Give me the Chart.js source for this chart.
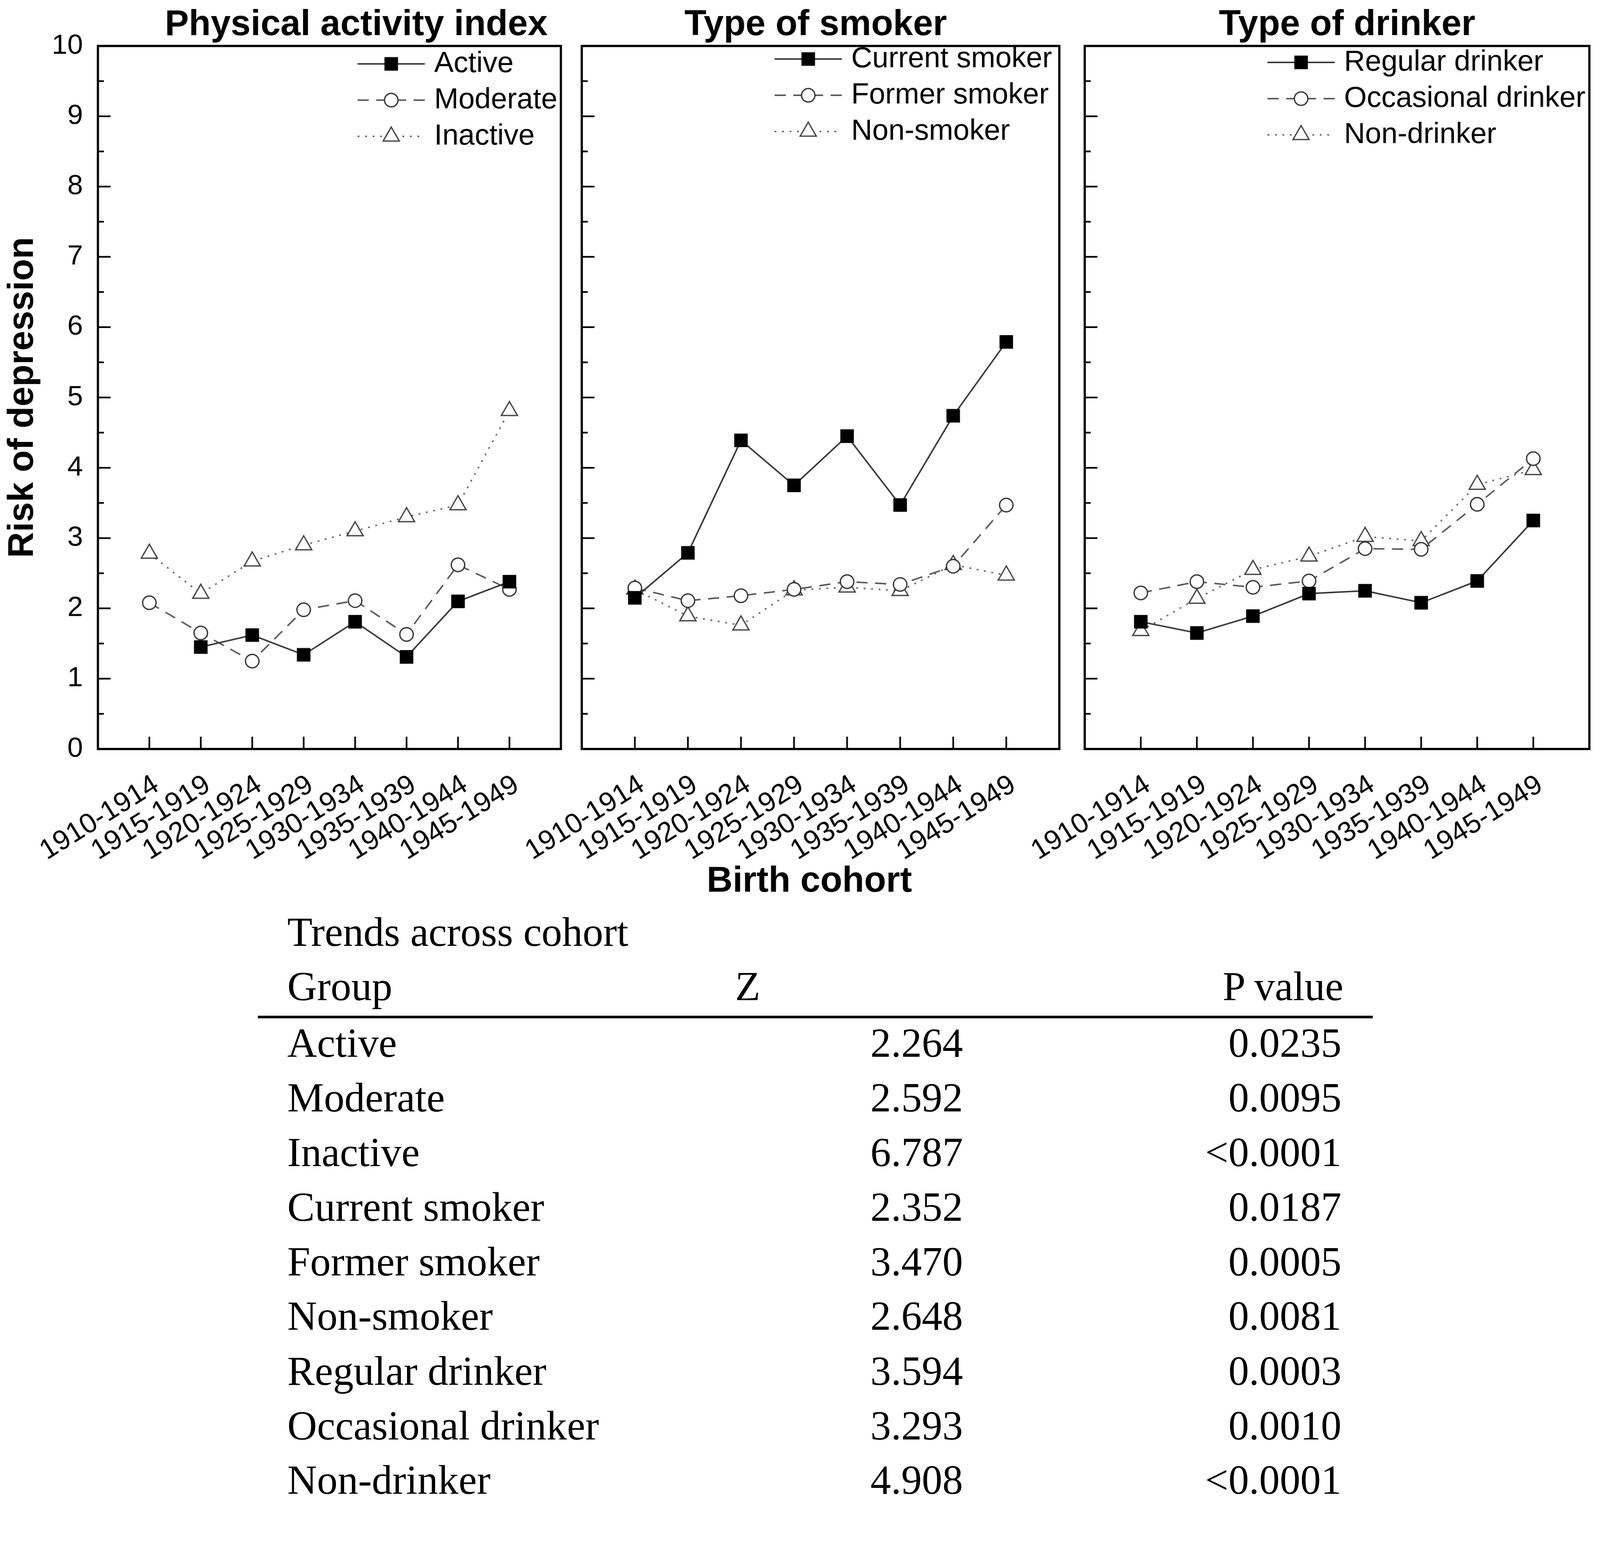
<!DOCTYPE html>
<html>
<head>
<meta charset="utf-8">
<script src="https://cdn.jsdelivr.net/npm/chart.js@4.4.1/dist/chart.umd.min.js"></script>
<style>
html,body{margin:0;padding:0;background:#fff;overflow:hidden;}
#page{position:absolute;left:0;top:0;width:4282px;height:4010px;transform-origin:0 0;background:#fff;}
canvas.panel{position:absolute;left:0;top:0;}
.t{position:absolute;font-family:'Liberation Serif','Times New Roman',serif;font-size:110px;line-height:110px;white-space:nowrap;color:#000;}
.rule{position:absolute;background:#000;}
</style>
</head>
<body>
<div id="page">
<canvas id="c1" class="panel" width="4282" height="2450"></canvas>
<canvas id="c2" class="panel" width="4282" height="2450"></canvas>
<canvas id="c3" class="panel" width="4282" height="2450"></canvas>
<div id="table"></div>
</div>
<script>
// data
const cohorts = ['1910-1914','1915-1919','1920-1924','1925-1929','1930-1934','1935-1939','1940-1944','1945-1949'];

const active     = [null, 1.45, 1.62, 1.34, 1.81, 1.31, 2.10, 2.38];
const moderate   = [2.08, 1.65, 1.25, 1.98, 2.11, 1.63, 2.62, 2.27];
const inactive   = [2.78, 2.21, 2.67, 2.90, 3.10, 3.30, 3.47, 4.81];

const current    = [2.15, 2.79, 4.39, 3.75, 4.45, 3.47, 4.74, 5.79];
const former     = [2.29, 2.11, 2.18, 2.27, 2.38, 2.34, 2.60, 3.47];
const nonSmoker  = [2.27, 1.89, 1.76, 2.26, 2.30, 2.25, 2.62, 2.47];

const regular    = [1.81, 1.65, 1.89, 2.21, 2.25, 2.08, 2.39, 3.25];
const occasional = [2.22, 2.38, 2.30, 2.39, 2.85, 2.84, 3.48, 4.13];
const nonDrinker = [1.68, 2.14, 2.55, 2.74, 3.02, 2.96, 3.76, 3.97];

const tableGroups = ['Active','Moderate','Inactive','Current smoker','Former smoker','Non-smoker','Regular drinker','Occasional drinker','Non-drinker'];
const tableZ      = ['2.264','2.592','6.787','2.352','3.470','2.648','3.594','3.293','4.908'];
const tableP      = ['0.0235','0.0095','<0.0001','0.0187','0.0005','0.0081','0.0003','0.0010','<0.0001'];

// fit the 4282x4010 layout into whatever the viewport really is
const page = document.getElementById('page');
const fit = Math.min(window.innerWidth/4282, window.innerHeight/4010);
page.style.transform = 'scale(' + fit + ')';

const SANS = "'Liberation Sans', Arial, sans-serif";
Chart.defaults.font.family = SANS;
Chart.defaults.color = '#000';

const styles = {
  solid: {borderColor:'#333', borderWidth:4, borderDash:[], pointStyle:'rect', pointRadius:25,
          pointBackgroundColor:'#000', pointBorderColor:'#000', pointBorderWidth:1},
  dash:  {borderColor:'#555', borderWidth:4, borderDash:[30,20], pointStyle:'circle', pointRadius:18,
          pointBackgroundColor:'#fff', pointBorderColor:'#333', pointBorderWidth:3.5},
  dot:   {borderColor:'#666', borderWidth:4, borderDash:[5,15], pointStyle:'triangle', pointRadius:25,
          pointBackgroundColor:'#fff', pointBorderColor:'#444', pointBorderWidth:3.5}
};

function series(label, vals, kind){
  return Object.assign({
    label,
    data: cohorts.map((c,i)=>({x:i, y:vals[i]})),
    tension:0,
    spanGaps:false
  }, styles[kind]);
}

// marker drawing for the legend rows
function marker(ctx, d, x, y){
  const r = d.pointRadius;
  ctx.fillStyle = d.pointBackgroundColor;
  ctx.strokeStyle = d.pointBorderColor;
  ctx.lineWidth = d.pointBorderWidth;
  ctx.setLineDash([]);
  ctx.beginPath();
  if(d.pointStyle==='rect'){
    const s = r*Math.SQRT1_2;
    ctx.rect(x-s, y-s, 2*s, 2*s);
  }else if(d.pointStyle==='circle'){
    ctx.arc(x, y, r, 0, Math.PI*2);
  }else{
    ctx.moveTo(x, y-r);
    ctx.lineTo(x+r*Math.sin(Math.PI*2/3), y-r*Math.cos(Math.PI*2/3));
    ctx.lineTo(x+r*Math.sin(Math.PI*4/3), y-r*Math.cos(Math.PI*4/3));
    ctx.closePath();
  }
  ctx.fill();
  ctx.stroke();
}

const insideLegend = {
  id:'insideLegend',
  afterDraw(chart, args, opts){
    const {ctx, chartArea:a} = chart;
    ctx.save();
    ctx.font = opts.font;
    const tx = a.left + opts.textX;
    chart.data.datasets.forEach((d,i)=>{
      const y = a.top + opts.top + i*opts.rowH;
      const x2 = tx - opts.gap, x1 = x2 - opts.lineLen;
      ctx.strokeStyle = d.borderColor;
      ctx.lineWidth = d.borderWidth;
      ctx.setLineDash(d.borderDash);
      ctx.beginPath(); ctx.moveTo(x1,y); ctx.lineTo(x2,y); ctx.stroke();
      marker(ctx, d, (x1+x2)/2, y);
      ctx.fillStyle = '#000';
      ctx.textAlign = 'left';
      ctx.textBaseline = 'middle';
      ctx.fillText(d.label, tx, y);
    });
    ctx.restore();
  }
};

// panel heading (and the shared x title), slightly off-centre as in the figure
const panelTitle = {
  id:'panelTitle',
  afterDraw(chart, args, opts){
    const {ctx, chartArea:a} = chart;
    const mid = (a.left+a.right)/2;
    ctx.save();
    ctx.font = 'bold 96px ' + SANS;
    ctx.fillStyle = '#000';
    ctx.textAlign = 'center';
    ctx.textBaseline = 'alphabetic';
    ctx.fillText(opts.text, mid + opts.dx, opts.baseline);
    if(opts.below){
      ctx.textBaseline = 'middle';
      ctx.fillText(opts.below, mid + opts.belowDx, opts.belowY);
    }
    ctx.restore();
  }
};

// box plus inward tick marks
const frame = {
  id:'frame',
  afterDraw(chart){
    const {ctx, chartArea:a, scales:{x,y}} = chart;
    ctx.save();
    ctx.strokeStyle = '#000';
    ctx.setLineDash([]);
    ctx.lineWidth = 4.5;
    const seg = (x1,y1,x2,y2)=>{ctx.beginPath();ctx.moveTo(x1,y1);ctx.lineTo(x2,y2);ctx.stroke();};
    y.ticks.forEach((t,i)=>{
      const py = y.getPixelForValue(t.value);
      seg(a.left, py, a.left+34, py);
      if(i < y.ticks.length-1){
        const pm = y.getPixelForValue((t.value + y.ticks[i+1].value)/2);
        seg(a.left, pm, a.left+16, pm);
      }
    });
    x.ticks.forEach(t=>{
      const px = x.getPixelForValue(t.value);
      seg(px, a.bottom, px, a.bottom-33);
    });
    ctx.lineWidth = 6;
    ctx.strokeRect(a.left, a.top, a.right-a.left, a.bottom-a.top);
    ctx.restore();
  }
};

function makePanel(id, cfg){
  const yW = cfg.yLabels ? 262 : 0;
  new Chart(document.getElementById(id), {
    type:'line',
    data:{datasets:cfg.datasets},
    options:{
      responsive:false,
      animation:false,
      devicePixelRatio:1,
      events:[],
      layout:{padding:{left:cfg.left - yW, right:4282 - cfg.right, top:123, bottom:25}},
      plugins:{
        legend:{display:false},
        tooltip:{enabled:false},
        title:{display:false},
        panelTitle:{text:cfg.title, dx:cfg.titleDx, baseline:94, below:cfg.xTitle, belowDx:-30, belowY:2361},
        insideLegend:{font:'78px ' + SANS, textX:cfg.legX, top:cfg.legTop, rowH:97, lineLen:180, gap:25}
      },
      scales:{
        x:{
          type:'linear', min:-1, max:8,
          afterBuildTicks:s=>{ s.ticks = s.ticks.filter(t=>t.value>=0 && t.value<=7); },
          afterFit:s=>{ s.height = 420; },
          grid:{display:false, drawTicks:false},
          border:{display:false},
          ticks:{stepSize:1, autoSkip:false, minRotation:32, maxRotation:32, padding:52, labelOffset:19,
                 font:{size:75}, color:'#000', callback:v=>cohorts[v] ?? ''}
        },
        y:{
          min:0, max:10,
          afterFit:s=>{ s.width = yW; },
          grid:{display:false, drawTicks:false},
          border:{display:false},
          ticks:{display:cfg.yLabels, stepSize:1, padding:40, font:{size:75}, color:'#000'},
          title:{display:cfg.yLabels, text:'Risk of depression', color:'#000',
                 font:{size:96, weight:'bold'}, padding:{top:4, bottom:0}}
        }
      }
    },
    plugins:[frame, insideLegend, panelTitle]
  });
}

makePanel('c1', {
  left:262, right:1501, yLabels:true, title:'Physical activity index', titleDx:72, legX:900, legTop:48,
  datasets:[series('Active', active, 'solid'), series('Moderate', moderate, 'dash'), series('Inactive', inactive, 'dot')]
});
makePanel('c2', {
  left:1557, right:2835, yLabels:false, title:'Type of smoker', titleDx:-13, legX:721, legTop:35, xTitle:'Birth cohort',
  datasets:[series('Current smoker', current, 'solid'), series('Former smoker', former, 'dash'), series('Non-smoker', nonSmoker, 'dot')]
});
makePanel('c3', {
  left:2903, right:4257, yLabels:false, title:'Type of drinker', titleDx:27, legX:694, legTop:44,
  datasets:[series('Regular drinker', regular, 'solid'), series('Occasional drinker', occasional, 'dash'), series('Non-drinker', nonDrinker, 'dot')]
});

// trend table below the charts
const table = document.getElementById('table');
function cell(text, baseline, x, align){
  const d = document.createElement('div');
  d.className = 't';
  d.textContent = text;
  d.style.top = (baseline - 92) + 'px';
  if(align==='right') d.style.right = (4282 - x) + 'px';
  else if(align==='center'){ d.style.left = x + 'px'; d.style.transform = 'translateX(-50%)'; }
  else d.style.left = x + 'px';
  table.appendChild(d);
}
cell('Trends across cohort', 2532, 769);
cell('Group', 2677, 769);
cell('Z', 2677, 2001, 'center');
cell('P value', 2677, 3595, 'right');
const rule = document.createElement('div');
rule.className = 'rule';
Object.assign(rule.style, {left:'690px', top:'2719px', width:'2984px', height:'7px'});
table.appendChild(rule);
tableGroups.forEach((g,i)=>{
  const b = 2829 + i*146.25;
  cell(g, b, 769);
  cell(tableZ[i], b, 2577, 'right');
  cell(tableP[i], b, 3590, 'right');
});
</script>
</body>
</html>
